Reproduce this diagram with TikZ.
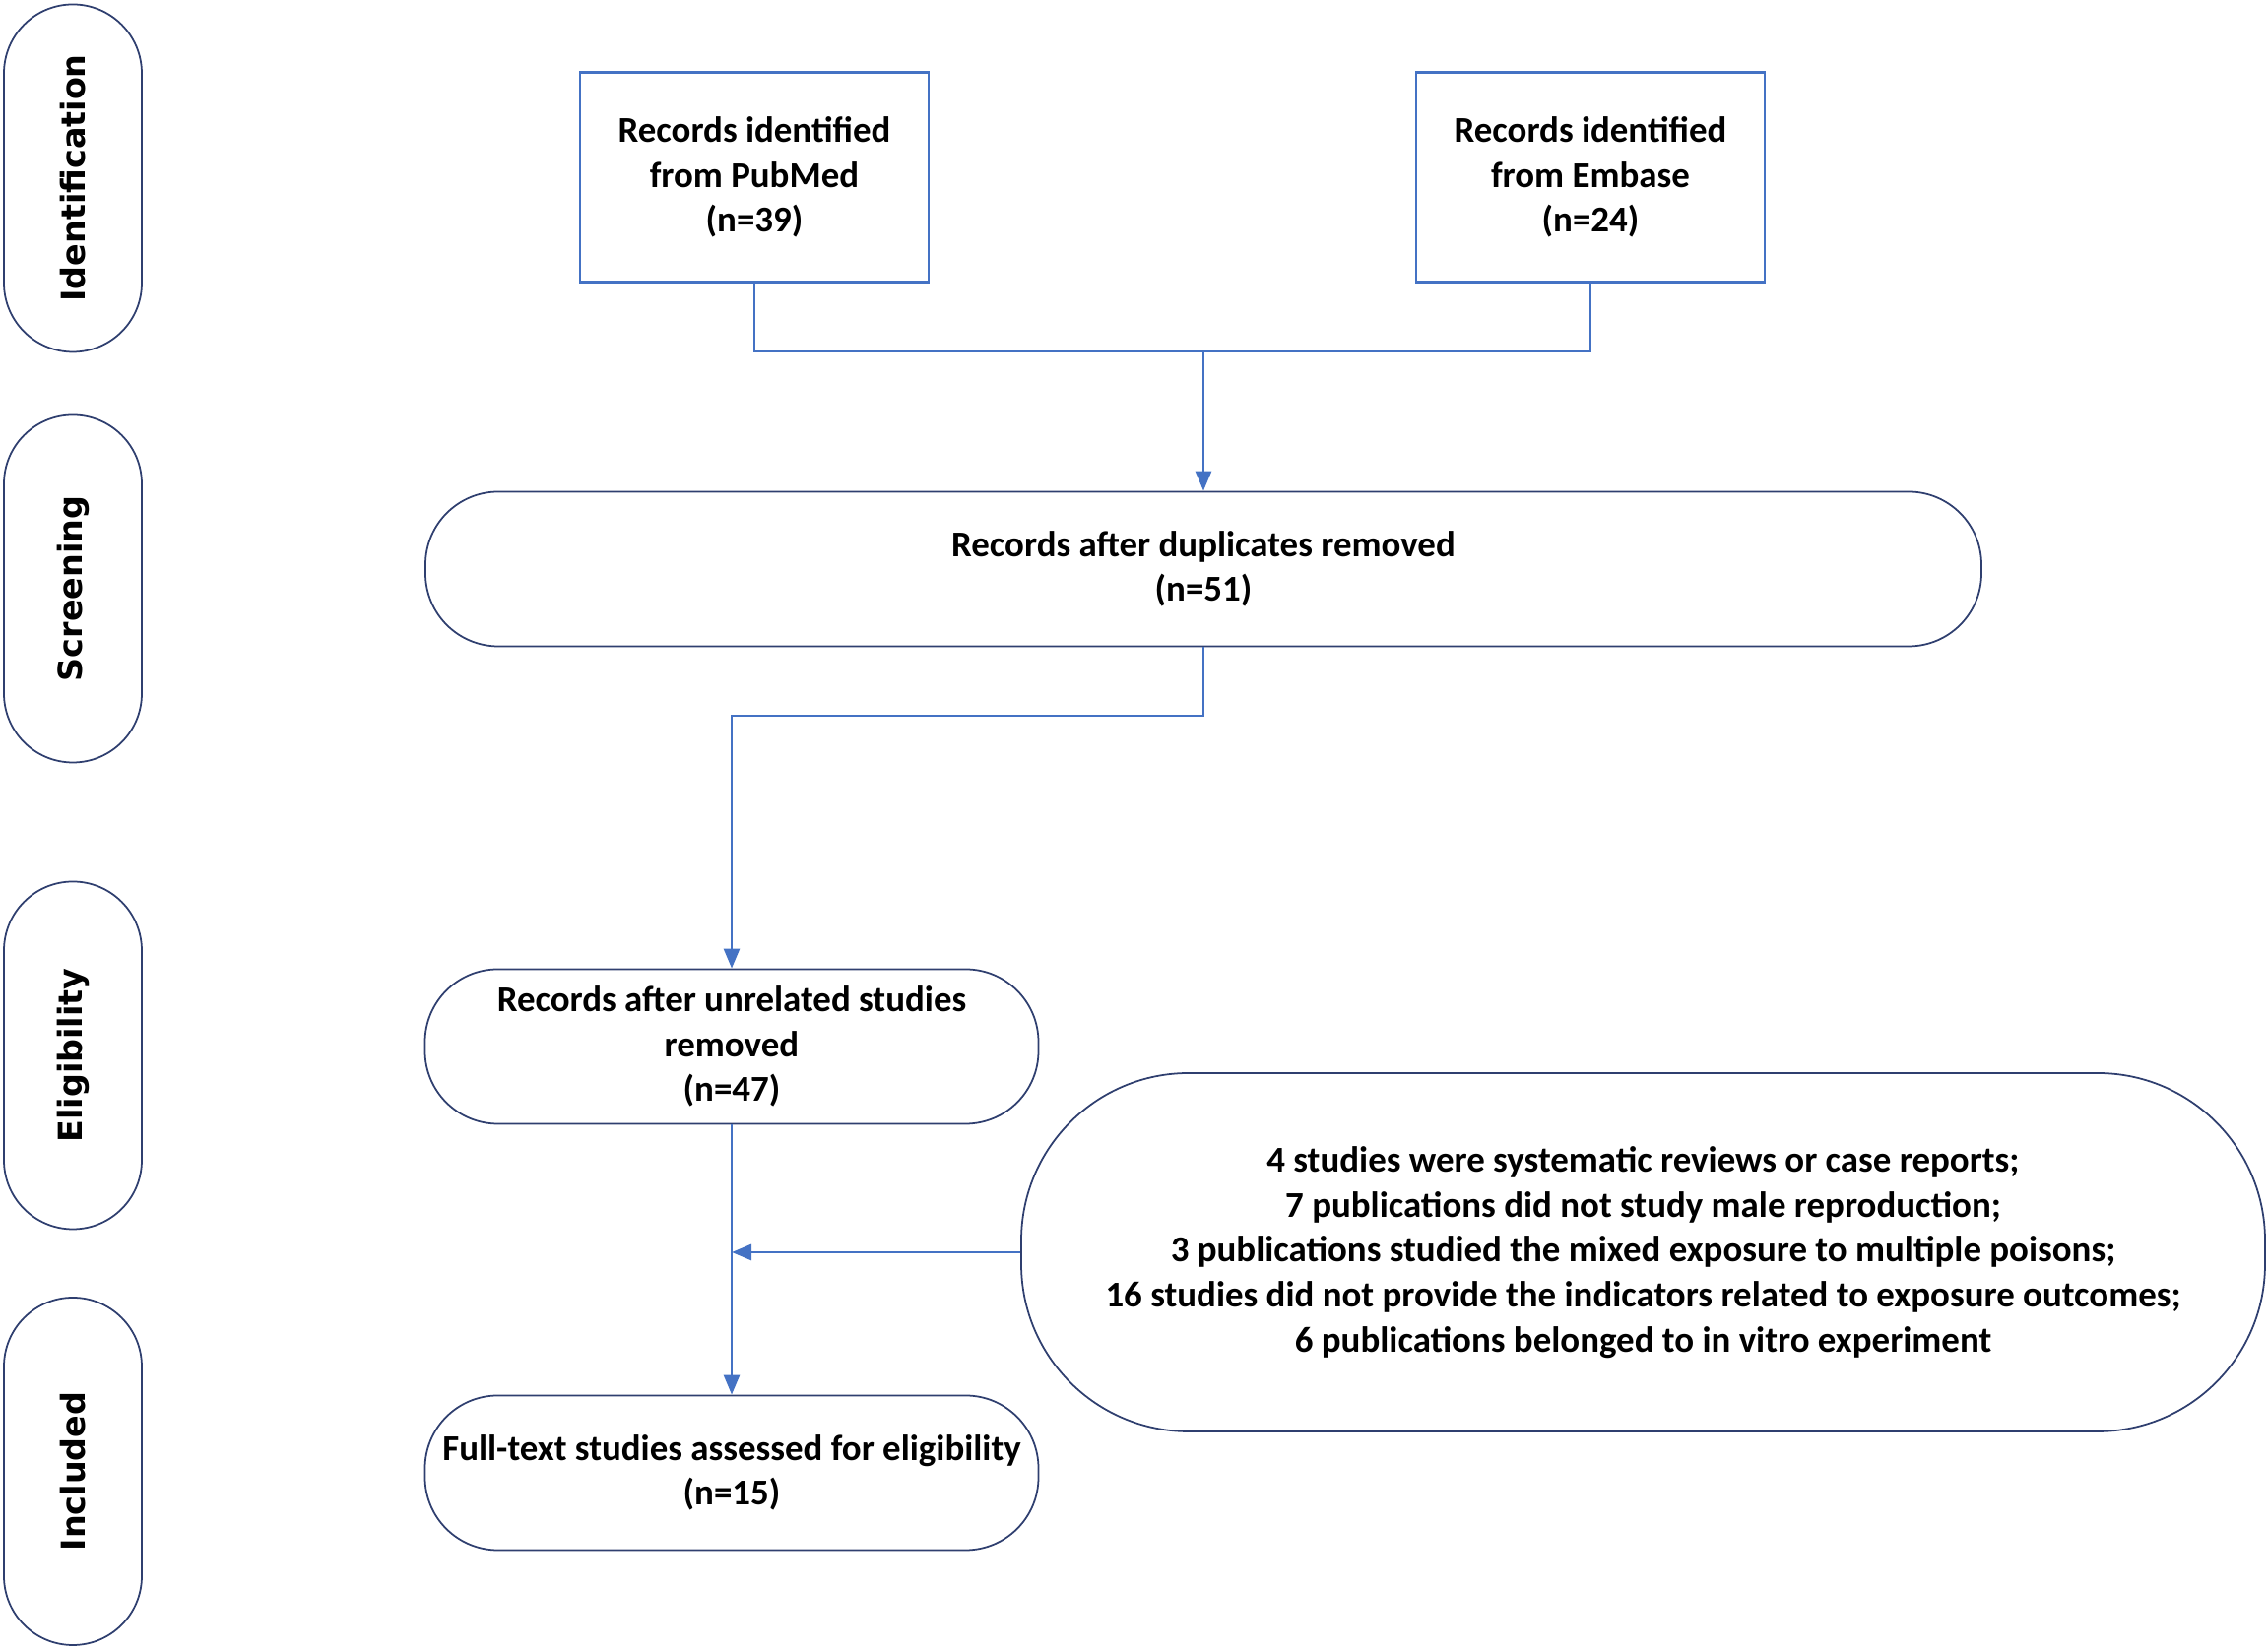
\documentclass[tikz,border=0pt]{standalone}
\usepackage{fontspec}
\setmainfont{Carlito}
\newfontfamily\sidefont{DejaVu Sans}
\usetikzlibrary{arrows.meta}

\definecolor{wireblue}{HTML}{4472C4}
\definecolor{edgeblue}{HTML}{2F3F6F}

\tikzset{
  sidebox/.style={draw=edgeblue, line width=0.5pt, rounded corners=0.7cm,
    minimum width=1.40cm, minimum height=3.53cm, inner sep=0pt},
  sidetext/.style={font=\sidefont\bfseries\fontsize{9.5}{11}\selectfont, rotate=90},
  srcbox/.style={draw=wireblue, line width=0.6pt, minimum width=3.54cm,
    minimum height=2.13cm, align=center, inner sep=0pt},
  termbox/.style={draw=edgeblue, line width=0.5pt, rounded corners=0.74cm,
    minimum height=1.57cm, align=center, inner sep=0pt},
  wire/.style={draw=wireblue, line width=0.8pt},
  flow/.style={wire, -{Triangle[length=0.2cm,width=0.16cm]}}
}

\begin{document}
\begin{tikzpicture}[font=\bfseries\fontsize{10.5}{13}\selectfont]
        	\useasboundingbox (0,0) rectangle (23.03,16.78);
        	% Stage labels:
        	\node[sidebox] (ident) at (0.74, 14.97){};
        	\node[sidetext] at (ident){Identification};
        	\node[sidebox] (screen) at (0.74, 10.80){};
        	\node[sidetext] at (screen){Screening};
        	\node[sidebox] (elig) at (0.74, 6.06){};
        	\node[sidetext] at (elig){Eligibility};
        	\node[sidebox] (incl) at (0.74, 1.835){};
        	\node[sidetext] at (incl){Included};
        	% Boxes:
        	\node[srcbox] (pubmed) at (7.66, 14.98){Records identified\\from PubMed\\(n=39)};
        	\node[srcbox] (embase) at (16.15, 14.98){Records identified\\from Embase\\(n=24)};
        	\node[termbox, minimum width=15.80cm] (dup) at (12.22, 11.00){Records after duplicates removed\\(n=51)};
        	\node[termbox, minimum width=6.23cm] (unrel) at (7.43, 6.15){Records after unrelated studies\\removed\\(n=47)};
        	\node[termbox, minimum width=6.23cm] (full) at (7.43, 1.82){Full-text studies assessed for eligibility\\(n=15)};
        	\node[termbox, rounded corners=1.7cm, minimum width=12.63cm, minimum height=3.64cm] (excl) at (16.685, 4.06){4 studies were systematic reviews or case reports;\\7 publications did not study male reproduction;\\3 publications studied the mixed exposure to multiple poisons;\\16 studies did not provide the indicators related to exposure outcomes;\\6 publications belonged to in vitro experiment};
        	% Connectors:
        	\coordinate (join) at (dup.north |- 0, 13.21);
        	\coordinate (bend) at (dup.south |- 0, 9.51);
        	\draw[wire] (pubmed.south) |- (join) -| (embase.south);
        	\draw[flow] (join) -- (dup.north);
        	\draw[flow] (dup.south) -- (bend) -| (unrel.north);
        	\draw[flow] (unrel.south) -- (full.north);
        	\draw[flow] (excl.west) -- (excl.west -| unrel.south);
        \end{tikzpicture}
\end{document}
